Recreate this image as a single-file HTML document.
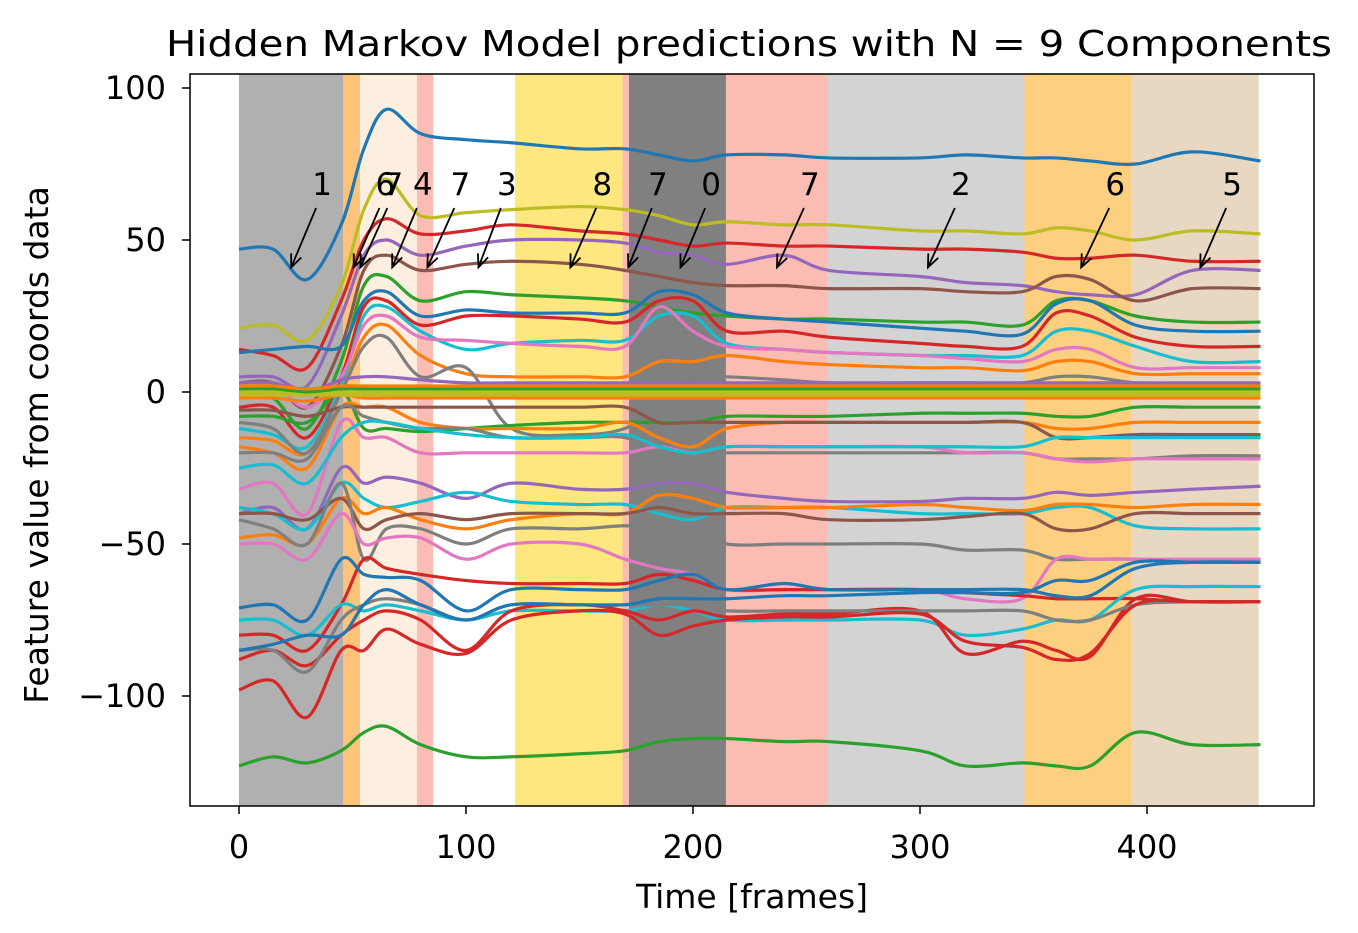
<!DOCTYPE html>
<html><head><meta charset="utf-8">
<style>
body{margin:0;background:#fff;}
svg{display:block;font-family:"DejaVu Sans","Liberation Sans",sans-serif;}
</style></head>
<body>
<svg id="chart" width="1358" height="933" viewBox="0 0 1358 933" xmlns="http://www.w3.org/2000/svg">
<defs><clipPath id="pc"><rect x="190" y="74" width="1124" height="732"/></clipPath></defs>
<g id="bg" clip-path="url(#pc)"></g>
<g id="lines" clip-path="url(#pc)"></g>
<g id="ann"></g>
<rect x="190" y="74" width="1124" height="732" fill="none" stroke="#000" stroke-width="1.5"/>
<g id="axes"></g>
<text x="749" y="56" text-anchor="middle" font-size="36" textLength="1166" lengthAdjust="spacingAndGlyphs">Hidden Markov Model predictions with N = 9 Components</text>
<text x="752" y="908" text-anchor="middle" font-size="33">Time [frames]</text>
<text transform="translate(48,445) rotate(-90)" text-anchor="middle" font-size="33">Feature value from coords data</text>
</svg>
<script>
const xTicks=[0,100,200,300,400];
const yTicks=[100,50,0,-50,-100];
const segStart=[0,45.8,53.3,78.4,85.5,121.6,169,171.8,214.5,259,346,393];
const segEnd=[45.8,53.3,78.4,85.5,121.6,169,171.8,214.5,259,346,393,449];
const segColor=["#b0b0b0","#fdc37a","#fdefe0","#fbbcb4","#ffffff","#fde77e","#fbbcb4","#808080","#fbbcb4","#d3d3d3","#fdcf80","#e8d8c2"];
const annLabels=["1","6","7","4","7","3","8","7","0","7","2","6","5"];
const annTextFrame=[36.6,64.5,68,81,97.5,118,160,184.5,208,251.5,318,386,437.5];
const annTipFrame=[23,50.5,53.5,67.5,83,105.5,146,171.5,194.5,237,303.5,371,423.5];
const annTipValue=[41,41,41,41,41,41,41,41,41,41,41,41,41];
const keyFrames=[0,15,30,45,55,65,80,100,120,150,170,185,200,215,240,260,300,320,345,360,375,395,420,450];
const seriesColor=["#1f77b4","#bcbd22","#d62728","#9467bd","#8c564b","#2ca02c","#1f77b4","#d62728","#17becf","#e377c2","#ff7f0e","#7f7f7f","#2ca02c","#ff7f0e","#8c564b","#7f7f7f","#e377c2","#17becf","#9467bd","#17becf","#ff7f0e","#8c564b","#7f7f7f","#e377c2","#d62728","#1f77b4","#17becf","#d62728","#7f7f7f","#d62728","#1f77b4","#2ca02c","#9467bd","#ff7f0e","#2ca02c","#bcbd22","#ff7f0e","#bcbd22"];
const seriesValues=[
[47,47,37,55,80,93,85,83,82,80,80,78,76,78,78,77,77,78,77,77,76,75,79,76],
[21,22,17,35,60,70,58,59,60,61,60,58,55,56,55,55,53,53,52,54,53,50,53,52],
[14,12,8,30,50,57,52,53,55,53,52,50,48,49,48,48,47,47,46,44,44,45,43,43],
[5,5,2,25,45,50,45,48,50,50,49,46,45,42,45,40,38,36,35,33,32,32,40,40],
[3,3,-5,15,40,45,40,42,43,42,40,38,36,35,35,34,34,33,33,38,37,30,34,34],
[0,-2,-12,10,35,38,30,33,32,31,30,28,26,25,24,24,23,23,22,30,30,25,23,23],
[13,14,15,15,30,33,25,27,26,26,26,33,32,26,24,23,21,20,19,29,30,22,20,20],
[-5,-5,-15,5,28,30,22,25,25,24,23,30,30,20,20,18,16,15,15,26,25,18,15,15],
[-12,-14,-18,2,25,28,20,14,16,17,17,25,25,16,14,13,12,12,12,20,20,15,10,10],
[0,2,-5,5,22,25,18,17,16,15,15,28,20,15,14,13,12,11,10,14,14,8,8,8],
[-15,-16,-20,0,18,22,12,6,5,5,5,10,10,12,10,9,8,8,7,10,10,6,6,6],
[-10,-12,-20,0,15,18,5,8,-12,-14,-12,-5,5,5,4,3,3,3,3,5,5,3,2,2],
[-8,-8,-10,0,-12,-12,-13,-12,-11,-10,-10,-10,-10,-8,-8,-8,-7,-7,-7,-8,-8,-5,-5,-5],
[-18,-20,-25,-5,-5,-5,-10,-12,-12,-12,-10,-15,-18,-12,-10,-10,-10,-10,-10,-12,-12,-10,-10,-10],
[-6,-6,-8,-5,-5,-5,-5,-5,-5,-5,-5,-10,-10,-10,-10,-10,-10,-10,-10,-15,-15,-14,-14,-14],
[-20,-20,-22,-5,-8,-10,-12,-12,-15,-15,-15,-20,-20,-20,-20,-20,-20,-20,-20,-22,-22,-22,-21,-21],
[-32,-30,-40,-10,-15,-15,-20,-20,-20,-20,-20,-18,-20,-18,-18,-18,-18,-20,-20,-22,-23,-22,-22,-22],
[-25,-24,-30,-15,-10,-10,-12,-14,-15,-15,-14,-18,-20,-18,-18,-18,-18,-18,-18,-15,-15,-15,-15,-15],
[-40,-38,-45,-25,-30,-28,-30,-35,-30,-32,-32,-30,-30,-33,-35,-36,-36,-35,-35,-33,-34,-33,-32,-31],
[-38,-40,-45,-30,-35,-38,-36,-33,-36,-37,-37,-40,-42,-38,-38,-38,-40,-40,-40,-38,-38,-44,-45,-45],
[-48,-47,-50,-35,-40,-38,-42,-45,-42,-40,-40,-34,-35,-38,-38,-38,-37,-38,-39,-37,-37,-38,-37,-37],
[-40,-40,-42,-35,-45,-42,-40,-42,-40,-40,-40,-38,-40,-40,-40,-42,-42,-41,-40,-45,-45,-40,-40,-40],
[-42,-45,-50,-30,-55,-45,-45,-50,-45,-45,-44,-45,-45,-50,-50,-50,-50,-52,-52,-55,-55,-55,-56,-56],
[-50,-50,-55,-40,-50,-48,-48,-55,-50,-50,-55,-58,-60,-65,-65,-65,-65,-68,-68,-55,-55,-55,-55,-55],
[-80,-80,-85,-70,-55,-58,-60,-62,-63,-63,-63,-60,-62,-65,-65,-65,-65,-66,-67,-68,-68,-68,-69,-69],
[-71,-70,-75,-55,-60,-61,-62,-72,-65,-65,-65,-62,-60,-65,-63,-65,-65,-65,-65,-67,-67,-58,-56,-56],
[-75,-75,-80,-70,-72,-70,-72,-75,-72,-72,-72,-70,-72,-75,-75,-75,-75,-80,-78,-75,-75,-65,-64,-64],
[-88,-85,-90,-80,-75,-72,-75,-85,-72,-70,-72,-75,-72,-74,-73,-73,-72,-86,-82,-85,-87,-68,-69,-69],
[-85,-85,-92,-75,-70,-68,-70,-75,-70,-70,-70,-70,-70,-72,-72,-72,-72,-72,-72,-75,-75,-70,-69,-69],
[-98,-95,-107,-85,-85,-78,-83,-86,-75,-72,-73,-80,-77,-75,-74,-74,-73,-82,-84,-88,-86,-70,-69,-69],
[-85,-83,-80,-80,-70,-65,-70,-75,-70,-70,-70,-68,-68,-68,-67,-67,-66,-66,-66,-62,-62,-56,-56,-56],
[-123,-120,-122,-118,-112,-110,-116,-120,-120,-119,-118,-115,-114,-114,-115,-115,-118,-123,-122,-123,-123,-112,-116,-116],
[3,3,0,4,5,5,4,3,3,3,3,3,3,3,3,3,3,3,3,3,3,3,3,3],
[-2,-2,-3,-1,-2,-2,-2,-2,-2,-2,-2,-2,-2,-2,-2,-2,-2,-2,-2,-2,-2,-2,-2,-2],
[1,1,0,1,1,1,1,1,1,1,1,1,1,1,1,1,1,1,1,1,1,1,1,1],
[0,0,-1,0,0,0,0,0,0,0,0,0,0,0,0,0,0,0,0,0,0,0,0,0],
[2,2,1,2,2,2,2,2,2,2,2,2,2,2,2,2,2,2,2,2,2,2,2,2],
[-1,-1,-1,-1,-1,-1,-1,-1,-1,-1,-1,-1,-1,-1,-1,-1,-1,-1,-1,-1,-1,-1,-1,-1]
];
const NS="http://www.w3.org/2000/svg";
const X=f=>239+f*2.27;
const Y=v=>392-v*3.04;
function mk(tag,attrs,parent){const e=document.createElementNS(NS,tag);for(const k in attrs)e.setAttribute(k,attrs[k]);parent.appendChild(e);return e;}
const bg=document.getElementById('bg');
segStart.forEach((s,i)=>{
 const r=mk('rect',{x:X(s),y:74,width:X(segEnd[i])-X(s)+0.5,height:732,fill:segColor[i]},bg);
 
 
});
const lg=document.getElementById('lines');
seriesValues.forEach((vals,si)=>{
 const pts=keyFrames.map((f,i)=>[X(f),Y(vals[i])]);
 let d='M'+pts[0][0]+','+pts[0][1];
 for(let i=0;i<pts.length-1;i++){
  const p0=pts[Math.max(0,i-1)],p1=pts[i],p2=pts[i+1],p3=pts[Math.min(pts.length-1,i+2)];
  const c1=[p1[0]+(p2[0]-p0[0])/6,p1[1]+(p2[1]-p0[1])/6];
  const c2=[p2[0]-(p3[0]-p1[0])/6,p2[1]-(p3[1]-p1[1])/6];
  d+=' C'+c1[0]+','+c1[1]+' '+c2[0]+','+c2[1]+' '+p2[0]+','+p2[1];
 }
 const p=mk('path',{d:d,fill:'none',stroke:seriesColor[si%seriesColor.length],'stroke-width':3.2,'stroke-linejoin':'round'},lg);
 
 
});
const ann=document.getElementById('ann');
annLabels.forEach((t,i)=>{
 const tx=X(annTextFrame[i]), ty=195;
 const txt=mk('text',{x:tx,y:ty,'text-anchor':'middle','font-size':31},ann);
 txt.textContent=t;
 
 
 const x1=tx-6,y1=208,x2=X(annTipFrame[i]),y2=Y(annTipValue[i]);
 const l=mk('line',{x1:x1,y1:y1,x2:x2,y2:y2,stroke:'#000','stroke-width':1.8},ann);
 
 
 const ang=Math.atan2(y2-y1,x2-x1),L=14,w=0.4;
 const h=mk('path',{d:`M${x2-L*Math.cos(ang-w)},${y2-L*Math.sin(ang-w)} L${x2},${y2} L${x2-L*Math.cos(ang+w)},${y2-L*Math.sin(ang+w)}`,fill:'none',stroke:'#000','stroke-width':1.8},ann);
 
 
});
const ax=document.getElementById('axes');
xTicks.forEach(v=>{
 const l=mk('line',{x1:X(v),x2:X(v),y1:806,y2:814,stroke:'#000','stroke-width':1.5},ax);
 
 
 const t=mk('text',{x:X(v),y:858,'text-anchor':'middle','font-size':32},ax);
 t.textContent=v;
 
 
});
yTicks.forEach(v=>{
 const l=mk('line',{x1:182,x2:190,y1:Y(v),y2:Y(v),stroke:'#000','stroke-width':1.5},ax);
 
 
 const t=mk('text',{x:166,y:Y(v)+11,'text-anchor':'end','font-size':32},ax);
 t.textContent=v<0?'\u2212'+(-v):v;
 
 
});
</script>
</body></html>
